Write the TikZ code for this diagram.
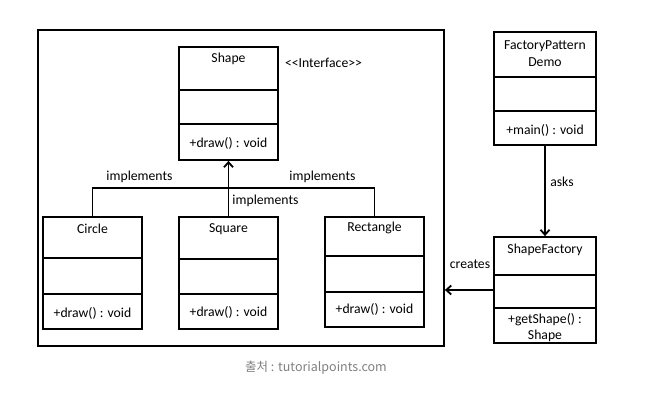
\documentclass[tikz,border=0pt]{standalone}
\usepackage{fontspec}
\setmainfont{Carlito}
\newfontfamily\krfont{Noto Sans CJK KR}
\usetikzlibrary{arrows.meta}

\begin{document}
\begin{tikzpicture}[x=1pt,y=-1pt,
  frame/.style={draw=black,line width=1.8pt},
  cls/.style={draw=black,line width=1.8pt,inner sep=0pt},
  divider/.style={black,line width=1.8pt},
  txt/.style={font=\fontsize{13.7}{15}\selectfont,inner sep=0pt,text=black},
  link/.style={black,line width=1.8pt},
  tip/.style={-{Straight Barb[length=5pt,width=9pt]}},
  note/.style={font=\krfont\fontsize{12.5}{14}\selectfont,text=black!50,inner sep=0pt}]

\useasboundingbox (0,0) rectangle (651,403);
\fill[white] (0,0) rectangle (651,403);

% class box: name, left, top, right, bottom, first and second divider
\newcommand{\umlclass}[7]{%
  \node[cls,minimum width={#4-#2},minimum height={#5-#3}] (#1) at ({(#2+#4)/2},{(#3+#5)/2}) {};
  \draw[divider] (#2,#6) -- (#4,#6);
  \draw[divider] (#2,#7) -- (#4,#7);
}

% package frame
\node[frame,minimum width=406pt,minimum height=316pt,inner sep=0pt] (pkg) at (241,188) {};

% interface and implementations
\umlclass{shape}{179}{47}{278}{160}{90}{124}
\node[txt] (shapeT) at (228.5,59) {Shape};
\node[txt] (shapeM) at (228.5,143) {+draw() : void};
\node[txt] (iface) at (323.5,63) {<{}<Interface>{}>};

\umlclass{circle}{43}{217}{142}{329}{258}{294}
\node[txt] (circleT) at (92.5,229) {Circle};
\node[txt] (circleM) at (92.5,313) {+draw() : void};

\umlclass{square}{179}{217}{278}{329}{259}{294}
\node[txt] (squareT) at (228.5,229) {Square};
\node[txt] (squareM) at (228.5,312) {+draw() : void};

\umlclass{rect}{325}{217}{424}{327}{256}{292}
\node[txt] (rectT) at (374.5,228) {Rectangle};
\node[txt] (rectM) at (374.5,309) {+draw() : void};

% demo client and factory
\umlclass{demo}{494}{32}{596}{145}{77}{111}
\node[txt] (demoT1) at (545,46) {FactoryPattern};
\node[txt] (demoT2) at (545,62) {Demo};
\node[txt] (demoM) at (545,130) {+main() : void};

\umlclass{factory}{494}{237}{596}{343}{275}{308}
\node[txt] (factoryT) at (545,250) {ShapeFactory};
\node[txt] (factoryM1) at (545,320) {+getShape() :};
\node[txt] (factoryM2) at (545,336) {Shape};

% realisation links
\coordinate (bus) at (228.5,188);
\draw[link] (circle.north) |- (bus) -| (rect.north);
\draw[link,tip] (square.north) -- (shape.south);
\node[txt] (impL) at (139.5,177) {implements};
\node[txt] (impR) at (322.5,177) {implements};
\node[txt] (impM) at (265.5,201) {implements};

% client and factory links
\draw[link,tip] (demo.south) -- (factory.north);
\node[txt] (asks) at (562,182) {asks};
\coordinate (createsY) at (0,290);
\draw[link,tip] (factory.west |- createsY) -- (pkg.east |- createsY);
\node[txt] (creates) at (470,264) {creates};

% source line
\node[note] (source) at (316,368) {출처 : tutorialpoints.com};
\end{tikzpicture}
\end{document}
